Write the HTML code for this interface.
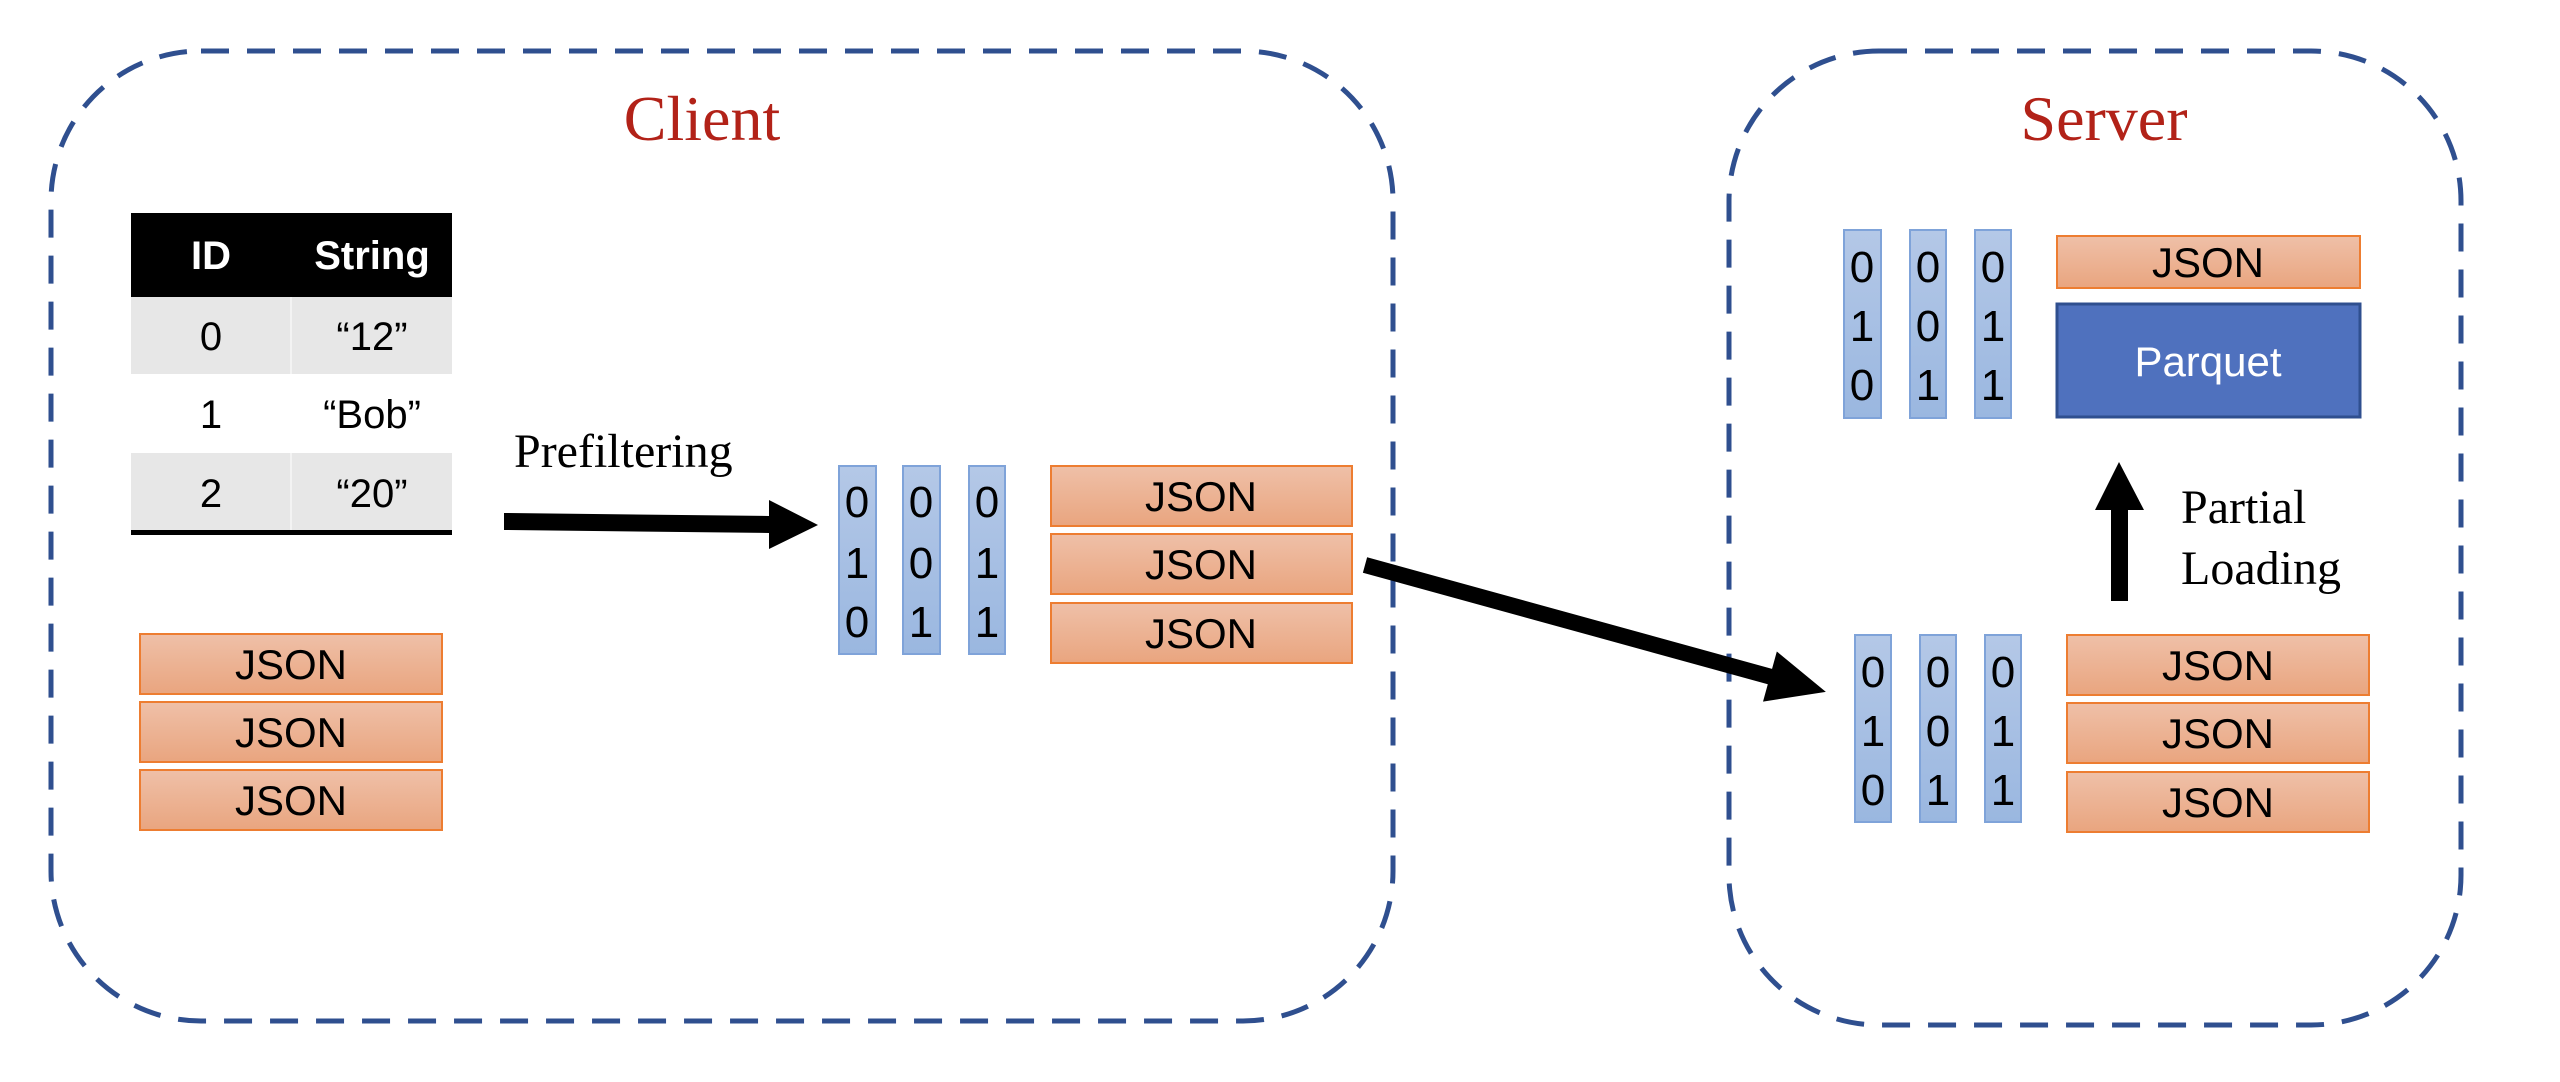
<!DOCTYPE html>
<html><head><meta charset="utf-8"><style>
html,body{margin:0;padding:0;background:#fff;}
svg{display:block;}
.j{font-family:"Liberation Sans",sans-serif;font-size:42px;fill:#000;text-anchor:middle;}
.d{font-family:"Liberation Sans",sans-serif;font-size:44px;fill:#000;text-anchor:middle;}
.s{font-family:"Liberation Serif",serif;fill:#000;}
</style></head><body>
<svg width="2560" height="1082" viewBox="0 0 2560 1082" xmlns="http://www.w3.org/2000/svg">
<defs>
<linearGradient id="og" x1="0" y1="0" x2="0" y2="1"><stop offset="0" stop-color="#efc0a8"/><stop offset="1" stop-color="#e9a57f"/></linearGradient>
<linearGradient id="bg" x1="0" y1="0" x2="0" y2="1"><stop offset="0" stop-color="#b4c8e7"/><stop offset="1" stop-color="#9ab7e0"/></linearGradient>
</defs>
<rect x="51" y="51" width="1342" height="970" rx="150" fill="none" stroke="#2f4f8f" stroke-width="5" stroke-dasharray="28 18"/>
<rect x="1729" y="51" width="732" height="974" rx="150" fill="none" stroke="#2f4f8f" stroke-width="5" stroke-dasharray="28 18"/>
<text x="702" y="140" font-family="Liberation Serif,serif" font-size="64" fill="#b22218" text-anchor="middle">Client</text>
<text x="2104" y="140" font-family="Liberation Serif,serif" font-size="64" fill="#b22218" text-anchor="middle">Server</text>
<!-- table -->
<rect x="131" y="213" width="321" height="84" fill="#000"/>
<rect x="131" y="297" width="321" height="77" fill="#e7e7e7"/>
<rect x="131" y="453" width="321" height="77" fill="#e7e7e7"/>
<rect x="131" y="530" width="321" height="5" fill="#000"/>
<line x1="291" y1="297" x2="291" y2="530" stroke="#fff" stroke-width="1"/>
<g font-family="Liberation Sans,sans-serif" font-size="40" text-anchor="middle">
<text x="211" y="269" fill="#fff" font-weight="bold">ID</text>
<text x="372" y="269" fill="#fff" font-weight="bold">String</text>
<text x="211" y="350">0</text><text x="372" y="350">“12”</text>
<text x="211" y="428">1</text><text x="372" y="428">“Bob”</text>
<text x="211" y="507">2</text><text x="372" y="507">“20”</text>
</g>
<!-- JSON boxes -->
<g stroke="#ed7d31" stroke-width="2" fill="url(#og)">
<rect x="140" y="634" width="302" height="60"/><rect x="140" y="702" width="302" height="60"/><rect x="140" y="770" width="302" height="60"/>
<rect x="1051" y="466" width="301" height="60"/><rect x="1051" y="534" width="301" height="60"/><rect x="1051" y="603" width="301" height="60"/>
<rect x="2057" y="236" width="303" height="52"/>
<rect x="2067" y="635" width="302" height="60"/><rect x="2067" y="703" width="302" height="60"/><rect x="2067" y="772" width="302" height="60"/>
</g>
<g class="j">
<text x="291" y="679">JSON</text><text x="291" y="747">JSON</text><text x="291" y="815">JSON</text>
<text x="1201" y="511">JSON</text><text x="1201" y="579">JSON</text><text x="1201" y="648">JSON</text>
<text x="2208" y="277">JSON</text>
<text x="2218" y="680">JSON</text><text x="2218" y="748">JSON</text><text x="2218" y="817">JSON</text>
</g>
<rect x="2057" y="304" width="303" height="113" fill="#4f71be" stroke="#2f4f8f" stroke-width="3"/>
<text x="2208" y="376" font-family="Liberation Sans,sans-serif" font-size="42" fill="#fff" text-anchor="middle">Parquet</text>
<!-- bit columns -->
<g stroke="#7fa3d9" stroke-width="2" fill="url(#bg)">
<rect x="839" y="466" width="37" height="188"/><rect x="903" y="466" width="37" height="188"/><rect x="969" y="466" width="36" height="188"/>
<rect x="1844" y="230" width="37" height="188"/><rect x="1910" y="230" width="36" height="188"/><rect x="1975" y="230" width="36" height="188"/>
<rect x="1855" y="635" width="36" height="187"/><rect x="1920" y="635" width="36" height="187"/><rect x="1985" y="635" width="36" height="187"/>
</g>
<g class="d">
<text x="857" y="517">0</text><text x="857" y="578">1</text><text x="857" y="637">0</text>
<text x="921" y="517">0</text><text x="921" y="578">0</text><text x="921" y="637">1</text>
<text x="987" y="517">0</text><text x="987" y="578">1</text><text x="987" y="637">1</text>
<text x="1862" y="282">0</text><text x="1862" y="341">1</text><text x="1862" y="400">0</text>
<text x="1928" y="282">0</text><text x="1928" y="341">0</text><text x="1928" y="400">1</text>
<text x="1993" y="282">0</text><text x="1993" y="341">1</text><text x="1993" y="400">1</text>
<text x="1873" y="687">0</text><text x="1873" y="746">1</text><text x="1873" y="805">0</text>
<text x="1938" y="687">0</text><text x="1938" y="746">0</text><text x="1938" y="805">1</text>
<text x="2003" y="687">0</text><text x="2003" y="746">1</text><text x="2003" y="805">1</text>
</g>
<!-- labels -->
<text class="s" x="514" y="467" font-size="48">Prefiltering</text>
<text class="s" x="2181" y="523" font-size="48">Partial</text>
<text class="s" x="2181" y="584" font-size="48">Loading</text>
<!-- arrows -->
<polygon points="504,513 769,516 769,500 818,525 769,549 769,533 504,530" fill="#000"/>
<g transform="translate(1365,565) rotate(15.4)">
<polygon points="0,-8 420,-8 420,-26 478,0 420,26 420,8 0,8" fill="#000"/>
</g>
<polygon points="2111,601 2111,510 2095,510 2119,462 2144,510 2128,510 2128,601" fill="#000"/>
</svg>
</body></html>
